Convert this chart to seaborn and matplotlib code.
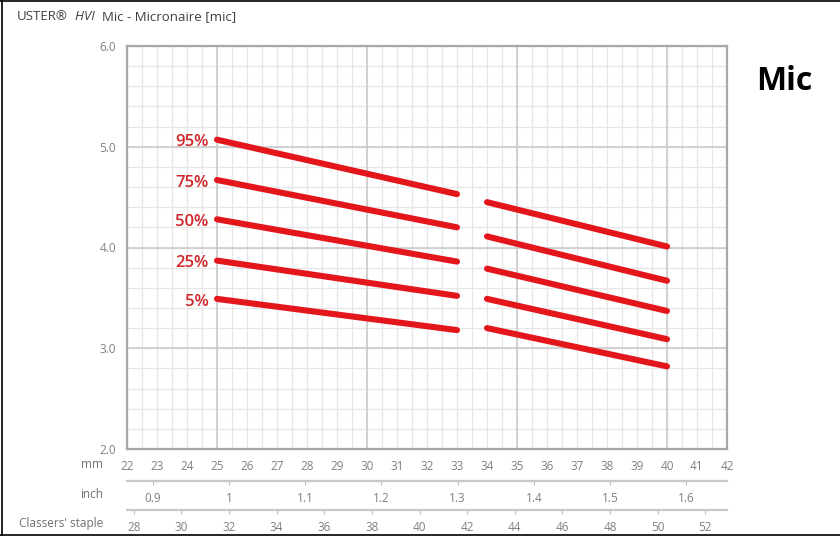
import numpy as np
import pandas as pd
import matplotlib
matplotlib.use("Agg")
import matplotlib.pyplot as plt
import seaborn as sns
from matplotlib.ticker import MultipleLocator, FixedLocator
from matplotlib.lines import Line2D

# ---- data ----
percentiles = ["95%", "75%", "50%", "25%", "5%"]
left_mm = [25, 33]
left_95 = [5.07, 4.53]
left_75 = [4.67, 4.20]
left_50 = [4.28, 3.86]
left_25 = [3.87, 3.52]
left_5 = [3.49, 3.18]
right_mm = [34, 40]
right_95 = [4.45, 4.01]
right_75 = [4.11, 3.67]
right_50 = [3.79, 3.37]
right_25 = [3.49, 3.09]
right_5 = [3.20, 2.82]
mm_ticks = list(range(22, 43))
inch_ticks = [0.9, 1.0, 1.1, 1.2, 1.3, 1.4, 1.5, 1.6]
inch_labels = ["0.9", "1", "1.1", "1.2", "1.3", "1.4", "1.5", "1.6"]
staple_ticks = list(range(28, 53, 2))
y_ticks = [2.0, 3.0, 4.0, 5.0, 6.0]

rows = []
lefts = [left_95, left_75, left_50, left_25, left_5]
rights = [right_95, right_75, right_50, right_25, right_5]
for p, lv, rv in zip(percentiles, lefts, rights):
    for x, y in zip(left_mm, lv):
        rows.append(dict(mm=x, mic=y, pct=p, seg=p + "_L"))
    for x, y in zip(right_mm, rv):
        rows.append(dict(mm=x, mic=y, pct=p, seg=p + "_R"))
df = pd.DataFrame(rows)

sns.set_theme(style="white")
plt.rcParams["font.family"] = ["Open Sans", "DejaVu Sans"]

fig = plt.figure(figsize=(8.4, 5.36), dpi=100)
ax = fig.add_axes([127 / 840, 1 - 449 / 536, 600 / 840, 403 / 536])

RED = "#e3161c"
sns.lineplot(data=df, x="mm", y="mic", units="seg", estimator=None,
             color=RED, linewidth=4.4, solid_capstyle="round", ax=ax,
             legend=False, zorder=5)

ax.set_xlim(22, 42)
ax.set_ylim(2.0, 6.0)
ax.set_xlabel("")
ax.set_ylabel("")

# grid
ax.xaxis.set_major_locator(FixedLocator(mm_ticks))
ax.xaxis.set_minor_locator(MultipleLocator(0.5))
ax.yaxis.set_major_locator(FixedLocator(y_ticks))
ax.yaxis.set_minor_locator(MultipleLocator(0.2))
ax.grid(which="both", color="#e6e6e6", linewidth=0.9, zorder=0)
ax.set_axisbelow(True)
for v in [25, 30, 35, 40]:
    ax.axvline(v, color="#c8c8c8", linewidth=1.1, zorder=1)
for v in [3, 4, 5]:
    ax.axhline(v, color="#c8c8c8", linewidth=1.1, zorder=1)

for s in ax.spines.values():
    s.set_color("#a8a8a8")
    s.set_linewidth(1.6)
    s.set_visible(True)

ax.set_xticklabels([str(t) for t in mm_ticks])
ax.set_yticklabels([f"{t:.1f}" for t in y_ticks])
ax.tick_params(axis="both", which="major", colors="#b0b0b0", labelcolor="#808080",
               labelsize=8.5, length=3, width=0.8, direction="out")
ax.tick_params(axis="x", which="major", pad=5)
ax.tick_params(axis="y", which="major", pad=4, length=4)
ax.tick_params(which="minor", length=0)

# percent labels
for p, lv in zip(percentiles, lefts):
    ax.annotate(p, xy=(left_mm[0], lv[0]), xytext=(-6, -2), textcoords="offset points",
                ha="right", va="center", color="#d0262a", fontsize=12,
                fontweight="semibold")

# secondary axes (inch, classers' staple)
sec1 = ax.secondary_xaxis(-32 / 403, functions=(lambda x: x / 25.4, lambda x: x * 25.4))
sec1.set_xticks(inch_ticks)
sec1.set_xticklabels(inch_labels)
sec2 = ax.secondary_xaxis(-61 / 403, functions=(lambda x: x / 25.4 * 32, lambda x: x * 25.4 / 32))
sec2.set_xticks(staple_ticks)
sec2.set_xticklabels([str(t) for t in staple_ticks])
for sec in (sec1, sec2):
    sec.spines["bottom"].set_color("#c8c8c8")
    sec.spines["bottom"].set_linewidth(1.6)
    sec.tick_params(axis="x", colors="#c0c0c0", labelcolor="#808080", labelsize=8.5,
                    length=3, width=0.8, direction="out", pad=5)
    sec.minorticks_off()

# row labels
lab_kw = dict(ha="right", va="center", color="#707070", fontsize=8.5)
fig.text(103 / 840, 1 - 465 / 536, "mm", **lab_kw)
fig.text(103 / 840, 1 - 494 / 536, "inch", **lab_kw)
fig.text(103 / 840, 1 - 523 / 536, "Classers' staple", **lab_kw)

# title
t1 = fig.text(17 / 840, 1 - 17 / 536, "USTER®", ha="left", va="center",
              color="#404040", fontsize=9.5)
ann2 = ax.annotate("  HVI", xy=(1, 0), xycoords=t1, ha="left", va="bottom",
                   color="#404040", fontsize=9.5, fontstyle="italic",
                   annotation_clip=False)
ax.annotate("  Mic - Micronaire [mic]", xy=(1, 0), xycoords=ann2, ha="left",
            va="bottom", color="#404040", fontsize=9.5, annotation_clip=False)

# big label
fig.text(784 / 840, 1 - 81 / 536, "Mic", ha="center", va="center", color="black",
         fontsize=23, fontweight="bold")

# outer frame (left, top, bottom)
for xs, ys in [([0.002, 0.002], [0, 1]), ([0, 1], [0.998, 0.998]), ([0, 1], [0.002, 0.002])]:
    fig.add_artist(Line2D(xs, ys, color="black", linewidth=1.2, transform=fig.transFigure))

fig.savefig("out.png", dpi=100)
